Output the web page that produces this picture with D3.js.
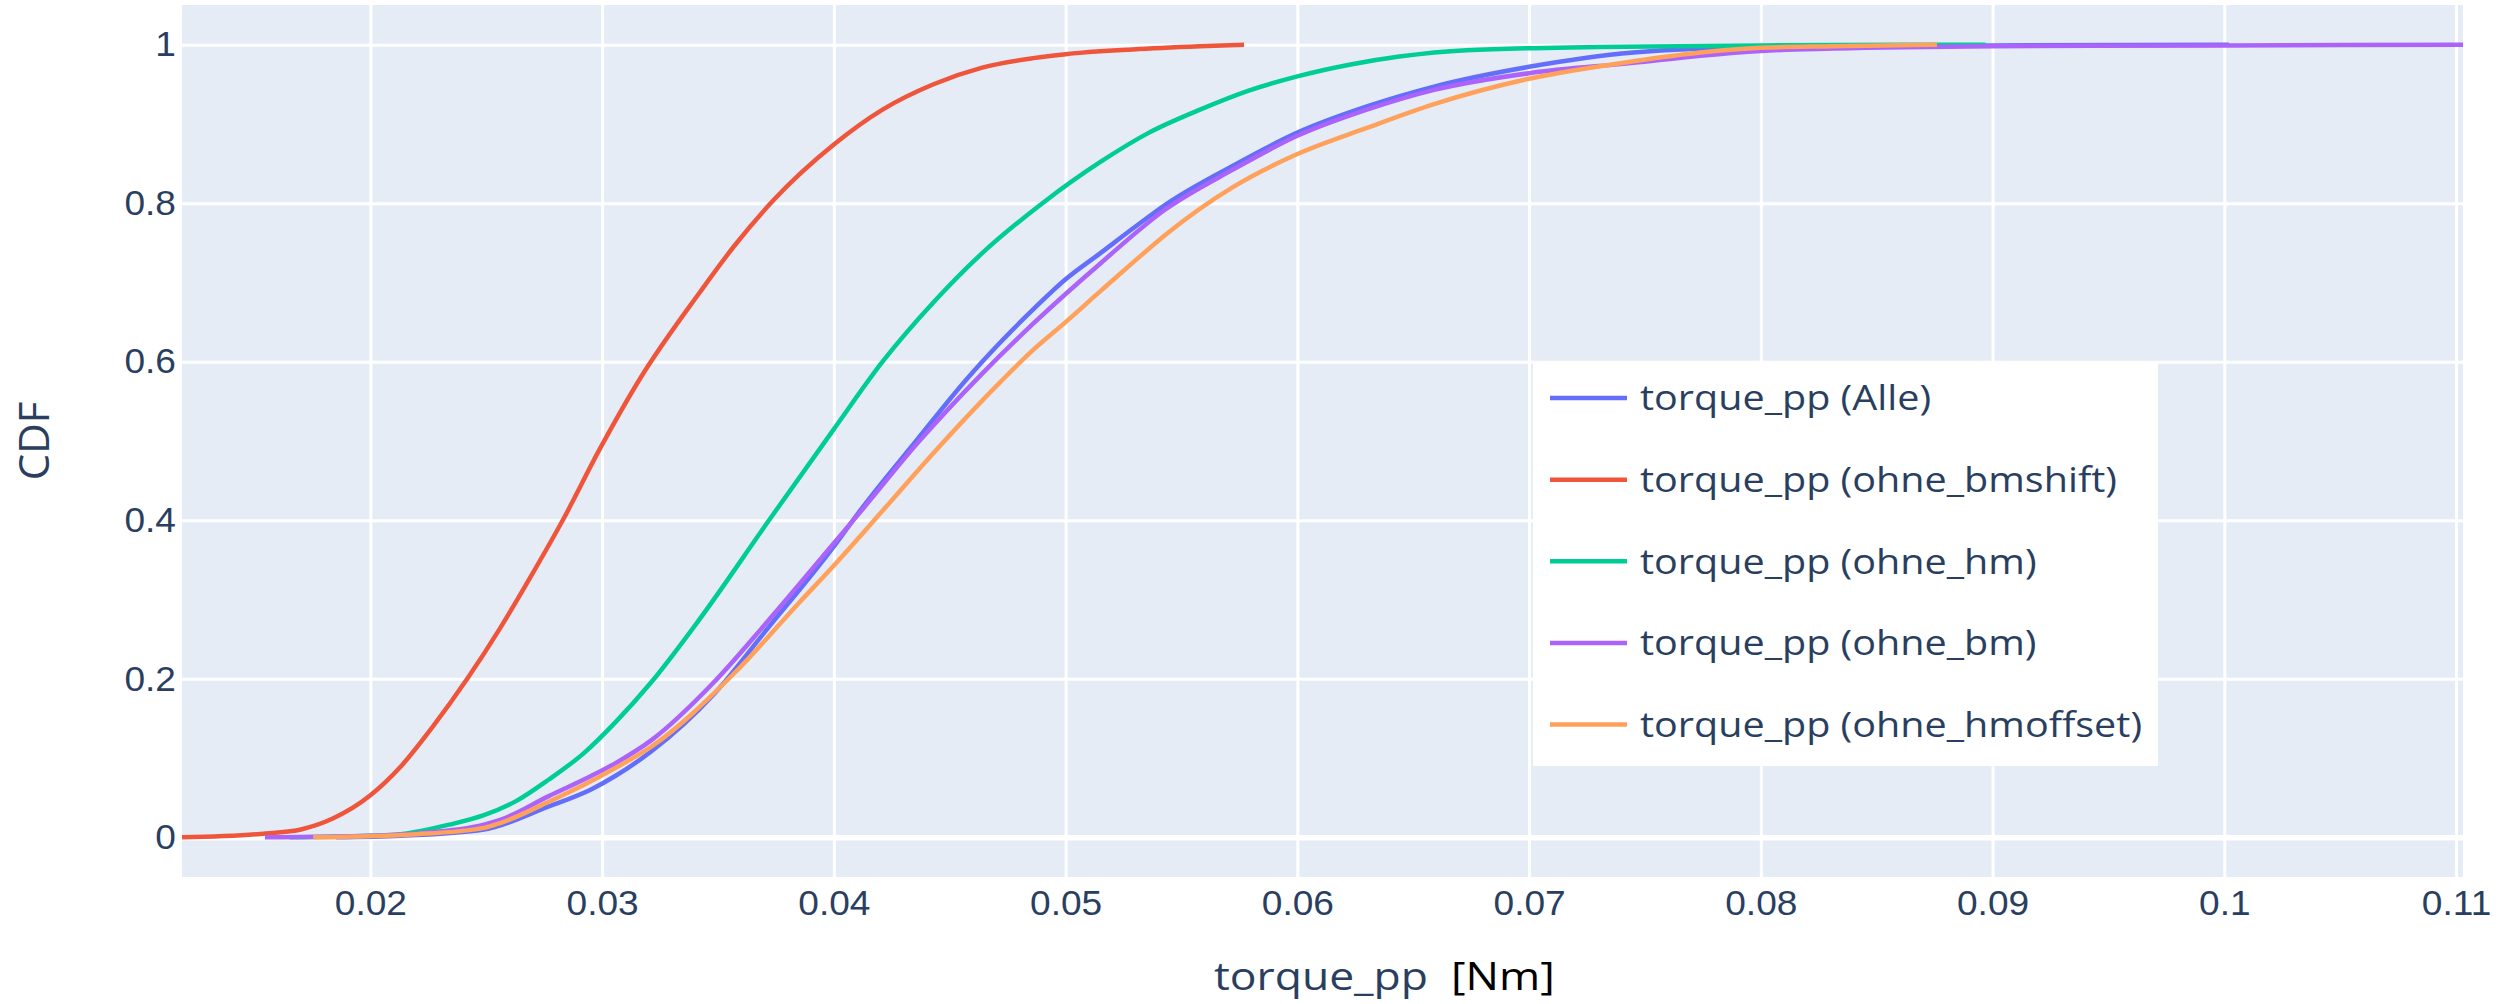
<!DOCTYPE html>
<html lang="en">
<head>
    <meta charset="UTF-8">
    <title>torque_pp CDF</title>
    <script src="https://d3js.org/d3.v7.min.js"></script>
    <style>
        body {
            margin: 0;
            padding: 0;
            background: #fff;
        }
        svg {
            display: block;
            font-family: "Open Sans", verdana, arial, sans-serif;
        }
        .grid line {
            stroke: #fff;
        }
        .grid path {
            display: none;
        }
        .axis path {
            display: none;
        }
        .axis text {
            fill: #2a3f5f;
            font-size: 35px;
        }
    </style>
</head>
<body>
    <div id="chart"></div>
    <script>
        // tick values
        const xTicks = [0.02, 0.03, 0.04, 0.05, 0.06, 0.07, 0.08, 0.09, 0.1, 0.11];
        const yTicks = [0, 0.2, 0.4, 0.6, 0.8, 1];

        // series
        const seriesNames = [
            "torque_pp (Alle)",
            "torque_pp (ohne_bmshift)",
            "torque_pp (ohne_hm)",
            "torque_pp (ohne_bm)",
            "torque_pp (ohne_hmoffset)"
        ];
        const seriesColors = ["#636efa", "#EF553B", "#00cc96", "#ab63fa", "#FFA15A"];

        const alleX = [0.0185, 0.0213, 0.0249, 0.0277, 0.0295, 0.0306, 0.0321, 0.0348, 0.0371, 0.0400, 0.0411, 0.0436, 0.0457, 0.0464, 0.0486, 0.0500, 0.0515, 0.0529, 0.0543, 0.0572, 0.0600, 0.0630, 0.0659, 0.0700, 0.0745, 0.0800, 0.0900, 0.1002];
        const alleY = [0, 0.002, 0.010, 0.039, 0.060, 0.078, 0.108, 0.180, 0.262, 0.367, 0.411, 0.502, 0.577, 0.600, 0.666, 0.704, 0.737, 0.768, 0.798, 0.847, 0.889, 0.922, 0.947, 0.972, 0.990, 0.997, 0.999, 1.0];

        const bmshiftX = [0.01187, 0.0155, 0.0170, 0.0184, 0.0200, 0.0213, 0.0227, 0.0242, 0.0256, 0.0270, 0.0283, 0.0299, 0.0316, 0.0342, 0.0357, 0.0374, 0.0400, 0.0421, 0.0443, 0.0464, 0.0486, 0.0500, 0.0529, 0.0558, 0.0577];
        const bmshiftY = [0, 0.005, 0.010, 0.024, 0.053, 0.089, 0.140, 0.201, 0.264, 0.333, 0.400, 0.490, 0.577, 0.687, 0.746, 0.804, 0.874, 0.918, 0.950, 0.971, 0.983, 0.988, 0.994, 0.998, 1.0];

        const hmX = [0.0165, 0.0200, 0.0213, 0.0234, 0.0249, 0.0263, 0.0277, 0.0292, 0.0306, 0.0321, 0.0342, 0.0372, 0.0400, 0.0421, 0.0443, 0.0464, 0.0490, 0.0515, 0.0536, 0.0558, 0.0579, 0.0600, 0.0623, 0.0644, 0.0673, 0.0730, 0.0800, 0.0897];
        const hmY = [0, 0.002, 0.004, 0.016, 0.028, 0.046, 0.073, 0.106, 0.146, 0.195, 0.275, 0.400, 0.515, 0.600, 0.675, 0.737, 0.800, 0.852, 0.889, 0.918, 0.942, 0.960, 0.975, 0.985, 0.993, 0.997, 0.999, 1.0];

        const bmX = [0.01545, 0.0200, 0.0220, 0.0249, 0.0256, 0.0277, 0.0295, 0.0306, 0.0321, 0.0348, 0.0371, 0.0400, 0.0411, 0.0436, 0.0464, 0.0486, 0.0515, 0.0543, 0.0572, 0.0600, 0.0630, 0.0659, 0.0700, 0.0745, 0.0774, 0.0800, 0.0831, 0.0900, 0.1000, 0.1103];
        const bmY = [0, 0.002, 0.005, 0.016, 0.022, 0.052, 0.077, 0.094, 0.122, 0.195, 0.271, 0.371, 0.409, 0.497, 0.585, 0.648, 0.724, 0.792, 0.842, 0.885, 0.918, 0.943, 0.964, 0.977, 0.986, 0.992, 0.995, 0.998, 0.999, 1.0];

        const hmoffsetX = [0.01753, 0.0220, 0.0249, 0.0256, 0.0277, 0.0292, 0.0306, 0.0321, 0.0357, 0.0385, 0.0400, 0.0421, 0.0443, 0.0472, 0.0486, 0.0500, 0.0515, 0.0529, 0.0543, 0.0572, 0.0600, 0.0630, 0.0659, 0.0700, 0.0745, 0.0774, 0.0800, 0.0831, 0.0876];
        const hmoffsetY = [0, 0.004, 0.012, 0.018, 0.045, 0.066, 0.088, 0.114, 0.207, 0.296, 0.343, 0.412, 0.485, 0.575, 0.615, 0.650, 0.689, 0.725, 0.760, 0.820, 0.862, 0.895, 0.925, 0.957, 0.979, 0.990, 0.996, 0.998, 1.0];

        const seriesX = [alleX, bmshiftX, hmX, bmX, hmoffsetX];
        const seriesY = [alleY, bmshiftY, hmY, bmY, hmoffsetY];

        const w = 2504, h = 1004;
        const plot = {left: 182, right: 2463, top: 5, bottom: 877};

        const svg = d3.select("#chart")
            .append("svg")
            .attr("width", w)
            .attr("height", h);

        svg.append("rect")
            .attr("width", w)
            .attr("height", h)
            .attr("fill", "#fff");

        const allX = d3.merge(seriesX);
        const x = d3.scaleLinear()
            .domain(d3.extent(allX))
            .range([plot.left, plot.right]);

        const yPad = 0.05;
        const y = d3.scaleLinear()
            .domain([0 - yPad, 1 + yPad])
            .range([plot.bottom, plot.top]);

        svg.append("rect")
            .attr("x", plot.left)
            .attr("y", plot.top)
            .attr("width", plot.right - plot.left)
            .attr("height", plot.bottom - plot.top)
            .attr("fill", "#E5ECF6");

        // grid
        svg.append("g")
            .attr("class", "grid")
            .attr("transform", `translate(0,${plot.bottom})`)
            .call(d3.axisBottom(x).tickValues(xTicks).tickSize(-(plot.bottom - plot.top)).tickFormat(""))
            .selectAll("line")
            .attr("stroke-width", 3);

        svg.append("g")
            .attr("class", "grid")
            .attr("transform", `translate(${plot.left},0)`)
            .call(d3.axisLeft(y).tickValues(yTicks).tickSize(-(plot.right - plot.left)).tickFormat(""))
            .selectAll("line")
            .attr("stroke-width", (d) => d === 0 ? 5.5 : 3);

        // text in the picture is a little wider than the font's normal shape
        function stretch(sel, sx) {
            sel.each(function () {
                const t = d3.select(this);
                const tx = +t.attr("x") || 0, ty = +t.attr("y") || 0;
                t.attr("transform", `translate(${tx},${ty}) scale(${sx},1) translate(${-tx},${-ty})`);
            });
        }

        // axes labels
        const fmt = (d) => String(+d.toFixed(2));
        svg.append("g")
            .attr("class", "axis")
            .attr("transform", `translate(0,${plot.bottom})`)
            .call(d3.axisBottom(x).tickValues(xTicks).tickSize(0).tickPadding(13).tickFormat(fmt))
            .call((g) => g.selectAll(".tick line").remove())
            .selectAll("text")
            .call(stretch, 1.06);

        svg.append("g")
            .attr("class", "axis")
            .attr("transform", `translate(${plot.left},0)`)
            .call(d3.axisLeft(y).tickValues(yTicks).tickSize(0).tickPadding(6).tickFormat(fmt))
            .call((g) => g.selectAll(".tick line").remove())
            .selectAll("text")
            .call(stretch, 1.06);

        // lines
        const line = d3.line()
            .x((d) => x(d[0]))
            .y((d) => y(d[1]))
            .curve(d3.curveMonotoneX);

        svg.append("defs").append("clipPath")
            .attr("id", "clip")
            .append("rect")
            .attr("x", plot.left)
            .attr("y", plot.top)
            .attr("width", plot.right - plot.left)
            .attr("height", plot.bottom - plot.top);

        svg.append("g")
            .attr("clip-path", "url(#clip)")
            .selectAll("path")
            .data(seriesNames.map((name, i) => ({name, color: seriesColors[i], pts: d3.zip(seriesX[i], seriesY[i])})))
            .join("path")
            .attr("fill", "none")
            .attr("stroke", (d) => d.color)
            .attr("stroke-width", 4.5)
            .attr("stroke-linejoin", "round")
            .attr("d", (d) => line(d.pts));

        // axis titles
        const xt = svg.append("text")
            .attr("x", 1214)
            .attr("y", 990)
            .attr("font-size", 39)
            .attr("fill", "#2a3f5f")
            .attr("xml:space", "preserve");
        xt.append("tspan").text("torque_pp  ");
        xt.append("tspan").attr("fill", "#000").text("[Nm]");
        stretch(xt, 1.14);

        svg.append("text")
            .attr("transform", `translate(49,${(plot.top + plot.bottom) / 2}) rotate(-90)`)
            .attr("text-anchor", "middle")
            .attr("font-size", 42)
            .attr("fill", "#2a3f5f")
            .text("CDF");

        // legend
        const leg = {x: 1533, y: 363, w: 625, h: 403};
        const legendY = d3.scalePoint()
            .domain(seriesNames)
            .range([398, 724.6]);

        const lg = svg.append("g");
        lg.append("rect")
            .attr("x", leg.x)
            .attr("y", leg.y)
            .attr("width", leg.w)
            .attr("height", leg.h)
            .attr("fill", "#fff");

        const items = lg.selectAll("g")
            .data(seriesNames)
            .join("g")
            .attr("transform", (d) => `translate(0,${legendY(d)})`);

        items.append("line")
            .attr("x1", 1550)
            .attr("x2", 1627)
            .attr("stroke", (d, i) => seriesColors[i])
            .attr("stroke-width", 4.5);

        items.append("text")
            .attr("x", 1640)
            .attr("y", 0)
            .attr("dy", "0.35em")
            .attr("font-size", 35)
            .attr("fill", "#2a3f5f")
            .text((d) => d)
            .call(stretch, 1.13);
    </script>
</body>
</html>
